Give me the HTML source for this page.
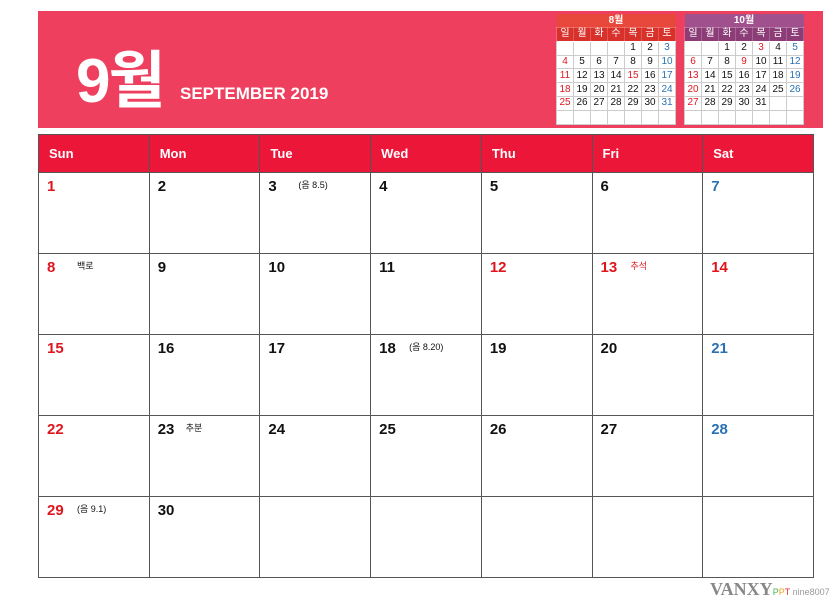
<!DOCTYPE html>
<html><head><meta charset="utf-8"><style>
body{margin:0;width:833px;height:598px;background:#fff;position:relative;overflow:hidden;font-family:"Liberation Sans","Noto Sans CJK KR",sans-serif}
.abs{position:absolute}
#hdr{left:38px;top:11px;width:785px;height:117px;background:#ef3f5f}
#big{left:76px;top:30px;font-size:62px;font-weight:bold;color:#fff;letter-spacing:-2px}
#sub{left:180px;top:84px;font-size:17px;font-weight:bold;color:#fff}
table.main{position:absolute;left:38px;top:134px;border-collapse:collapse;table-layout:fixed;width:776px}
table.main td{border:1px solid #555;vertical-align:top;padding:0;position:relative}
table.main tr.h td{height:37px;background:#ec1639;color:#fff;font-weight:bold;font-size:13px;vertical-align:middle;padding-left:10px}
table.main tr.w td{height:80px}
.n{position:absolute;left:8px;top:5px;font-size:15px;font-weight:bold;color:#111}
table.main .r,.mini td.r{color:#e0161f}
table.main .b,.mini td.b{color:#2a72b4}
.note{position:absolute;top:5px;font-size:9px;color:#111}
.mini{position:absolute;border-collapse:collapse;font-size:10px;text-align:center;table-layout:fixed;width:120px}
.mini td{border:1px solid #ccc;height:12.8px;padding:0;line-height:12px;background:#fff;color:#111}
.mini tr.t td{color:#fff;font-weight:bold;border:none;height:13px}
.mini tr.d td{color:#fff;border-color:#fff3}
</style></head><body>
<div id="hdr" class="abs"></div>
<div id="big" class="abs">9월</div>
<div id="sub" class="abs">SEPTEMBER 2019</div>

<table class="mini" style="left:556px;top:14px">
<tr class="t"><td colspan="7" style="background:#e8483b">8월</td></tr>
<tr class="d"><td style="background:#d8312b">일</td><td style="background:#d8312b">월</td><td style="background:#d8312b">화</td><td style="background:#d8312b">수</td><td style="background:#d8312b">목</td><td style="background:#d8312b">금</td><td style="background:#d8312b">토</td></tr>
<tr><td></td><td></td><td></td><td></td><td>1</td><td>2</td><td class="b">3</td></tr>
<tr><td class="r">4</td><td>5</td><td>6</td><td>7</td><td>8</td><td>9</td><td class="b">10</td></tr>
<tr><td class="r">11</td><td>12</td><td>13</td><td>14</td><td class="r">15</td><td>16</td><td class="b">17</td></tr>
<tr><td class="r">18</td><td>19</td><td>20</td><td>21</td><td>22</td><td>23</td><td class="b">24</td></tr>
<tr><td class="r">25</td><td>26</td><td>27</td><td>28</td><td>29</td><td>30</td><td class="b">31</td></tr>
<tr><td></td><td></td><td></td><td></td><td></td><td></td><td></td></tr>
</table>
<table class="mini" style="left:684px;top:14px">
<tr class="t"><td colspan="7" style="background:#a0508c">10월</td></tr>
<tr class="d"><td style="background:#8c3d78">일</td><td style="background:#8c3d78">월</td><td style="background:#8c3d78">화</td><td style="background:#8c3d78">수</td><td style="background:#8c3d78">목</td><td style="background:#8c3d78">금</td><td style="background:#8c3d78">토</td></tr>
<tr><td></td><td></td><td>1</td><td>2</td><td class="r">3</td><td>4</td><td class="b">5</td></tr>
<tr><td class="r">6</td><td>7</td><td>8</td><td class="r">9</td><td>10</td><td>11</td><td class="b">12</td></tr>
<tr><td class="r">13</td><td>14</td><td>15</td><td>16</td><td>17</td><td>18</td><td class="b">19</td></tr>
<tr><td class="r">20</td><td>21</td><td>22</td><td>23</td><td>24</td><td>25</td><td class="b">26</td></tr>
<tr><td class="r">27</td><td>28</td><td>29</td><td>30</td><td>31</td><td></td><td></td></tr>
<tr><td></td><td></td><td></td><td></td><td></td><td></td><td></td></tr>
</table>

<table class="main">
<tr class="h"><td>Sun</td><td>Mon</td><td>Tue</td><td>Wed</td><td>Thu</td><td>Fri</td><td>Sat</td></tr>
<tr class="w"><td><span class="n r">1</span></td><td><span class="n">2</span></td><td><span class="n">3</span><span class="note" style="left:38px">(음 8.5)</span></td><td><span class="n">4</span></td><td><span class="n">5</span></td><td><span class="n">6</span></td><td><span class="n b">7</span></td></tr>
<tr class="w"><td><span class="n r">8</span><span class="note" style="left:38px">백로</span></td><td><span class="n">9</span></td><td><span class="n">10</span></td><td><span class="n">11</span></td><td><span class="n r">12</span></td><td><span class="n r">13</span><span class="note r" style="left:38px">추석</span></td><td><span class="n r">14</span></td></tr>
<tr class="w"><td><span class="n r">15</span></td><td><span class="n">16</span></td><td><span class="n">17</span></td><td><span class="n">18</span><span class="note" style="left:38px">(음 8.20)</span></td><td><span class="n">19</span></td><td><span class="n">20</span></td><td><span class="n b">21</span></td></tr>
<tr class="w"><td><span class="n r">22</span></td><td><span class="n">23</span><span class="note" style="left:36px">추분</span></td><td><span class="n">24</span></td><td><span class="n">25</span></td><td><span class="n">26</span></td><td><span class="n">27</span></td><td><span class="n b">28</span></td></tr>
<tr class="w"><td><span class="n r">29</span><span class="note" style="left:38px">(음 9.1)</span></td><td><span class="n">30</span></td><td></td><td></td><td></td><td></td><td></td></tr>
</table>
<div class="abs" style="left:710px;top:579px;font-family:'Liberation Serif',serif;font-size:18px;color:#888;font-weight:bold">VANXY<span style="font-family:'Liberation Sans';font-size:9px;color:#999;font-weight:normal"><span style="color:#4caf50">P</span><span style="color:#f0a020">P</span><span style="color:#e53030">T</span> nine8007</span></div>
</body></html>
